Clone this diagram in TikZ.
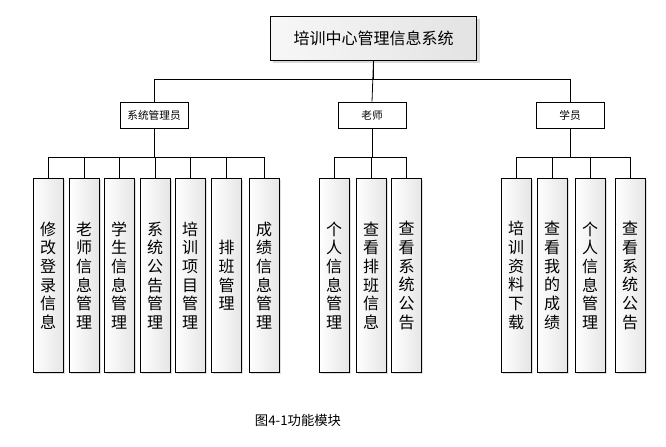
\documentclass[tikz,border=0pt]{standalone}
\usepackage{fontspec}
\setmainfont{Noto Sans CJK SC}
\usetikzlibrary{shadows}
\begin{document}
\begin{tikzpicture}[x=0.75pt,y=-0.75pt]
  \tikzstyle{root} = [rectangle, draw, line width=0.6pt, left color=gray!6, right color=gray!22, minimum width=155pt, minimum height=33pt, font=\fontsize{12}{14}\selectfont, drop shadow={shadow xshift=2pt, shadow yshift=-2pt, fill=gray!60}]
  \tikzstyle{role} = [rectangle, draw, line width=0.6pt, fill=white, minimum width=51pt, minimum height=19.5pt, font=\fontsize{8}{10}\selectfont]
  \tikzstyle{leaf} = [rectangle, draw, line width=0.6pt, left color=white, right color=gray!20, minimum width=22.5pt, minimum height=146pt, text width=12pt, align=center, inner sep=0pt, font=\fontsize{12}{14}\selectfont, drop shadow={shadow xshift=1.2pt, shadow yshift=-1.2pt, fill=gray!50}]
  \tikzstyle{link} = [line width=0.6pt]
  \useasboundingbox (0,0) rectangle (666,446);

  % Root
  \node [root] (sys) at (373.5,38) {培训中心管理信息系统};

  % Roles
  \node [role] (admin) at (154,115) {系统管理员};
  \node [role] (tea) at (372,115) {老师};
  \node [role] (stu) at (570,115) {学员};

  % Admin functions
  \node [leaf] (a1) at (48,275.5) {修\\改\\登\\录\\信\\息};
  \node [leaf] (a2) at (84,275.5) {老\\师\\信\\息\\管\\理};
  \node [leaf] (a3) at (119,275.5) {学\\生\\信\\息\\管\\理};
  \node [leaf] (a4) at (155,275.5) {系\\统\\公\\告\\管\\理};
  \node [leaf] (a5) at (190,275.5) {培\\训\\项\\目\\管\\理};
  \node [leaf] (a6) at (226.5,275.5) {排\\班\\管\\理};
  \node [leaf] (a7) at (264,275.5) {成\\绩\\信\\息\\管\\理};

  % Teacher functions
  \node [leaf] (t1) at (334,275.5) {个\\人\\信\\息\\管\\理};
  \node [leaf] (t2) at (371,275.5) {查\\看\\排\\班\\信\\息};
  \node [leaf] (t3) at (406.5,275.5) {查\\看\\系\\统\\公\\告};

  % Student functions
  \node [leaf] (s1) at (516,275.5) {培\\训\\资\\料\\下\\载};
  \node [leaf] (s2) at (552,275.5) {查\\看\\我\\的\\成\\绩};
  \node [leaf] (s3) at (590,275.5) {个\\人\\信\\息\\管\\理};
  \node [leaf] (s4) at (630,275.5) {查\\看\\系\\统\\公\\告};

  % Root to roles
  \draw [link] (sys.south) -- ++(0,19) -| (admin.north);
  \draw [link] (sys.south) -- ++(0,19) -| (stu.north);
  \draw [link] (sys.south) -- (tea.north);

  % Admin links
  \draw [link] (admin.south) -- ++(0,29) -| (a1.north);
  \draw [link] (admin.south) -- ++(0,29) -| (a2.north);
  \draw [link] (admin.south) -- ++(0,29) -| (a3.north);
  \draw [link] (admin.south) -- ++(0,29) -| (a4.north);
  \draw [link] (admin.south) -- ++(0,29) -| (a5.north);
  \draw [link] (admin.south) -- ++(0,29) -| (a6.north);
  \draw [link] (admin.south) -- ++(0,29) -| (a7.north);

  % Teacher links
  \draw [link] (tea.south) -- ++(0,29) -| (t1.north);
  \draw [link] (tea.south) -- ++(0,29) -| (t2.north);
  \draw [link] (tea.south) -- ++(0,29) -| (t3.north);

  % Student links
  \draw [link] (stu.south) -- ++(0,29) -| (s1.north);
  \draw [link] (stu.south) -- ++(0,29) -| (s2.north);
  \draw [link] (stu.south) -- ++(0,29) -| (s3.north);
  \draw [link] (stu.south) -- ++(0,29) -| (s4.north);

  % Caption
  \node [font=\fontsize{10}{12}\selectfont] (cap) at (298,420) {图4-1功能模块};
\end{tikzpicture}
\end{document}
